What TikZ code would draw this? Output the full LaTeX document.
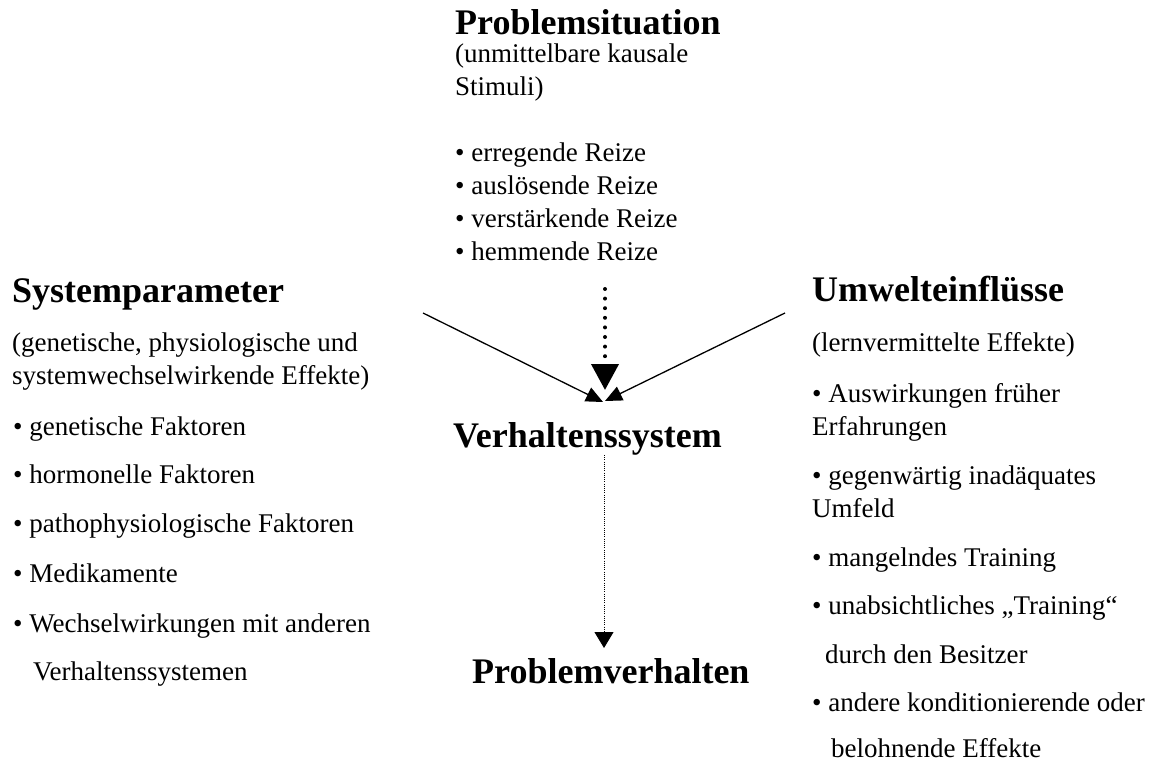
\documentclass[tikz,border=0pt]{standalone}
\usepackage{fontspec}
\setmainfont{Liberation Serif}
\usetikzlibrary{arrows.meta}
\tikzset{
  body/.style={anchor=base west, inner sep=0pt, font=\fontsize{27}{32}\selectfont},
  head/.style={anchor=base west, inner sep=0pt, font=\fontsize{36}{40}\selectfont\bfseries},
  solidarrow/.style={line width=1.3pt, -{Triangle[length=17pt,width=15pt]}},
  bigdotted/.style={line width=4pt, line cap=round, dash pattern=on 0pt off 9.6pt, -{Triangle[length=26pt,width=27pt,line cap=butt]}},
  thindotted/.style={line width=1pt, dash pattern=on 1pt off 1.2pt, -{Triangle[length=16pt,width=19pt]}}
}
\begin{document}
\begin{tikzpicture}[x=1pt,y=-1pt]
\useasboundingbox (0,0) rectangle (1154,767);
% centre top
\node[head] (ps) at (455,35) {Problemsituation};
\node[body] (ps1) at (455,63) {(unmittelbare kausale};
\node[body] (ps2) at (455,96) {Stimuli)};
\node[body] (ps3) at (455,162) {• erregende Reize};
\node[body] (ps4) at (455,195) {• auslösende Reize};
\node[body] (ps5) at (455,228) {• verstärkende Reize};
\node[body] (ps6) at (455,261) {• hemmende Reize};
% left
\node[head] (sp) at (12,303) {Systemparameter};
\node[body] (sp1) at (12,352) {(genetische, physiologische und};
\node[body] (sp2) at (12,384) {systemwechselwirkende Effekte)};
\node[body] (sp3) at (13,435) {• genetische Faktoren};
\node[body] (sp4) at (13,483) {• hormonelle Faktoren};
\node[body] (sp5) at (13,532) {• pathophysiologische Faktoren};
\node[body] (sp6) at (13,582) {• Medikamente};
\node[body] (sp7) at (13,632) {• Wechselwirkungen mit anderen};
\node[body] (sp8) at (33,680) {Verhaltenssystemen};
% right
\node[head] (ue) at (812,302) {Umwelteinflüsse};
\node[body] (ue1) at (812,352) {(lernvermittelte Effekte)};
\node[body] (ue2) at (812,402) {• Auswirkungen früher};
\node[body] (ue3) at (812,435) {Erfahrungen};
\node[body] (ue4) at (812,484) {• gegenwärtig inadäquates};
\node[body] (ue5) at (812,517) {Umfeld};
\node[body] (ue6) at (812,566) {• mangelndes Training};
\node[body] (ue7) at (812,614) {• unabsichtliches „Training“};
\node[body] (ue8) at (825,663) {durch den Besitzer};
\node[body] (ue9) at (812,711) {• andere konditionierende oder};
\node[body] (ue10) at (831,757) {belohnende Effekte};
% centre
\node[head] (vs) at (453,447) {Verhaltenssystem};
\node[head] (pv) at (472,683) {Problemverhalten};
% connectors
\coordinate (lstart) at (423,313);
\coordinate (ltip) at (603,402);
\coordinate (rstart) at (785,313);
\coordinate (rtip) at (605,401);
\coordinate (dstart) at (605,289);
\coordinate (dtip) at (605,390);
\coordinate (tstart) at (604,455);
\coordinate (ttip) at (604,648);
\draw[solidarrow] (lstart) -- (ltip);
\draw[solidarrow] (rstart) -- (rtip);
\draw[bigdotted] (dstart) -- (dtip);
\draw[thindotted] (tstart) -- (ttip);
\end{tikzpicture}
\end{document}
